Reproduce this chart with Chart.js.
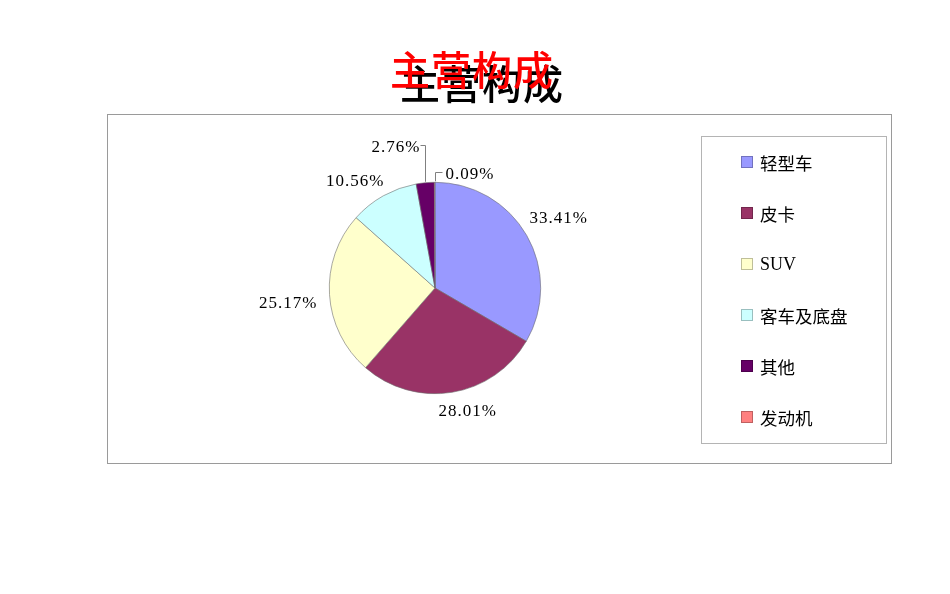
<!DOCTYPE html>
<html>
<head>
<meta charset="utf-8">
<script src="https://cdn.jsdelivr.net/npm/chart.js@4"></script>
<style>
  html, body { margin: 0; padding: 0; background: #fff; }
  #wrap { position: relative; width: 950px; height: 594px; }
  canvas { position: absolute; left: 0; top: 0; }
  .title { position: absolute; font-family: "Noto Sans CJK SC", sans-serif; font-size: 40px; line-height: 40px; white-space: nowrap; letter-spacing: 1px; font-weight: 500; }
</style>
</head>
<body>
<div id="wrap">
  <canvas id="c" width="950" height="594"></canvas>
  <div class="title" style="left:400px; top:62px; color:#000;">主营构成</div>
  <div class="title" style="left:390px; top:48px; color:#ff0000;">主营构成</div>
</div>
<script>
const categories = ["轻型车", "皮卡", "SUV", "客车及底盘", "其他", "发动机"];
const shares = [33.41, 28.01, 25.17, 10.56, 2.76, 0.09];
const sliceColors = ["#9999FF", "#993366", "#FFFFCC", "#CCFFFF", "#660066", "#FF8080"];

const framePlugin = {
  id: 'frame',
  beforeDraw(chart) {
    const ctx = chart.ctx;
    ctx.save();
    ctx.strokeStyle = '#9a9a9a';
    ctx.lineWidth = 1;
    ctx.strokeRect(107.5, 114.5, 784, 349);
    ctx.strokeStyle = '#b4b4b4';
    ctx.strokeRect(701.5, 136.5, 185, 307);
    ctx.restore();
  }
};

const legendPlugin = {
  id: 'sideLegend',
  afterDraw(chart) {
    const ctx = chart.ctx;
    const labels = chart.data.labels;
    const ds = chart.data.datasets[0];
    ctx.save();
    labels.forEach((lab, i) => {
      const cy = 162 + i * 51;
      ctx.fillStyle = ds.backgroundColor[i];
      ctx.fillRect(741, cy - 6, 12, 12);
      ctx.strokeStyle = 'rgba(0,0,0,0.25)';
      ctx.lineWidth = 1;
      ctx.strokeRect(741.5, cy - 5.5, 11, 11);
      ctx.fillStyle = '#000';
      ctx.textBaseline = 'middle';
      ctx.textAlign = 'left';
      ctx.font = /^[A-Za-z]+$/.test(lab) ? '18px "Liberation Serif"' : '17.5px "Noto Sans CJK SC"';
      ctx.fillText(lab, 760, cy + 1);
    });
    ctx.restore();
  }
};

const labelPlugin = {
  id: 'pctLabels',
  afterDatasetsDraw(chart) {
    const ctx = chart.ctx;
    const meta = chart.getDatasetMeta(0);
    const data = chart.data.datasets[0].data;
    ctx.save();
    ctx.font = '17px "Liberation Serif"';
    ctx.letterSpacing = '1px';
    ctx.fillStyle = '#000';
    ctx.textBaseline = 'middle';
    const smallIdx = [];
    meta.data.forEach((arc, i) => {
      const p = arc.getProps(['x', 'y', 'startAngle', 'endAngle', 'outerRadius'], true);
      const mid = (p.startAngle + p.endAngle) / 2;
      const txt = data[i].toFixed(2) + '%';
      if (data[i] < 5) { smallIdx.push({ i, p, mid, txt }); return; }
      // Excel-like placement: slightly rotated counter-clockwise away from the slice middle
      const a = mid - 0.06;
      const dx = Math.cos(a), dy = Math.sin(a);
      const R = p.outerRadius + 13;
      const w = ctx.measureText(txt).width;
      const cx = p.x + R * dx + dx * w / 2;
      const cy = p.y + R * dy + dy * 8;
      ctx.textAlign = 'center';
      ctx.fillText(txt, cx, cy);
    });
    // small slices: leader lines
    ctx.strokeStyle = '#808080';
    ctx.lineWidth = 1;
    const n = smallIdx.length;
    smallIdx.forEach((s, k) => {
      const j = n - 1 - k; // last slice nearest
      const ex = s.p.x + s.p.outerRadius * Math.cos(s.mid);
      const ey = s.p.y + s.p.outerRadius * Math.sin(s.mid);
      const ly = s.p.y - s.p.outerRadius - 10 - 27 * j;
      const lx = Math.round(ex) + 0.5;
      ctx.beginPath();
      ctx.moveTo(lx, ey - 1);
      ctx.lineTo(lx, Math.round(ly) + 0.5);
      if (j === 0) {
        ctx.lineTo(lx + 7, Math.round(ly) + 0.5);
        ctx.stroke();
        ctx.textAlign = 'left';
        ctx.fillText(s.txt, lx + 10, ly + 2);
      } else {
        ctx.lineTo(lx - 5, Math.round(ly) + 0.5);
        ctx.stroke();
        ctx.textAlign = 'right';
        ctx.fillText(s.txt, lx - 5, ly + 2);
      }
    });
    ctx.restore();
  }
};

new Chart(document.getElementById('c'), {
  type: 'pie',
  data: {
    labels: categories,
    datasets: [{
      data: shares,
      backgroundColor: sliceColors,
      borderColor: '#6e6e6e',
      borderWidth: 0.6
    }]
  },
  options: {
    responsive: false,
    animation: false,
    devicePixelRatio: 1,
    layout: { padding: { left: 329, right: 409, top: 182, bottom: 200 } },
    plugins: { legend: { display: false }, tooltip: { enabled: false }, title: { display: false } }
  },
  plugins: [framePlugin, legendPlugin, labelPlugin]
});
</script>
</body>
</html>
